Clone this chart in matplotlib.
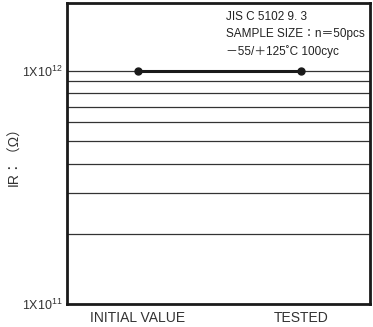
import matplotlib
matplotlib.use("Agg")
import matplotlib.pyplot as plt
from matplotlib.ticker import FixedLocator, NullFormatter

plt.rcParams['font.family'] = ['Liberation Sans', 'Noto Sans CJK JP', 'DejaVu Sans']
plt.rcParams['mathtext.fontset'] = 'custom'
plt.rcParams['mathtext.rm'] = 'Liberation Sans'

categories = ["INITIAL VALUE", "TESTED"]
ir_values = [1e12, 1e12]
grid_levels = [2e11, 3e11, 4e11, 5e11, 6e11, 7e11, 8e11, 9e11, 1e12]
y_ticks = [1e11, 1e12]
y_tick_labels = [r"1X10$^{11}$", r"1X10$^{12}$"]
note = "JIS C 5102 9. 3\nSAMPLE SIZE：n＝50pcs\n－55/＋125˚C 100cyc"

fig = plt.figure(figsize=(3.73, 3.27), dpi=100)
ax = fig.add_axes([67 / 373, 23 / 327, 303 / 373, 301 / 327])

ax.set_yscale("log")
ax.set_ylim(1e11, 1.95e12)
ax.set_xlim(-0.435, 1.424)

for g in grid_levels:
    ax.axhline(g, color="#333333", linewidth=0.9, zorder=1)

ax.plot(range(len(categories)), ir_values, color="#1a1a1a", linewidth=2.2,
        marker="o", markersize=5, zorder=3)

ax.yaxis.set_major_locator(FixedLocator(y_ticks))
ax.set_yticklabels(y_tick_labels, fontsize=9, color="#333333")
ax.yaxis.set_minor_formatter(NullFormatter())
ax.yaxis.set_minor_locator(FixedLocator([]))
ax.set_xticks(range(len(categories)))
ax.set_xticklabels(categories, fontsize=10, color="#333333")
ax.tick_params(length=0, pad=3)
ax.tick_params(axis="x", pad=5)

for s in ax.spines.values():
    s.set_linewidth(2)
    s.set_color("#1a1a1a")

ax.set_ylabel("IR：（Ω）", fontsize=10, color="#333333")
ax.yaxis.set_label_coords(-0.15, 0.5)

ax.text(0.525, 0.974, note, transform=ax.transAxes, fontsize=8.5,
        va="top", ha="left", color="#222222", linespacing=1.55)

fig.savefig("out.png", dpi=100)
